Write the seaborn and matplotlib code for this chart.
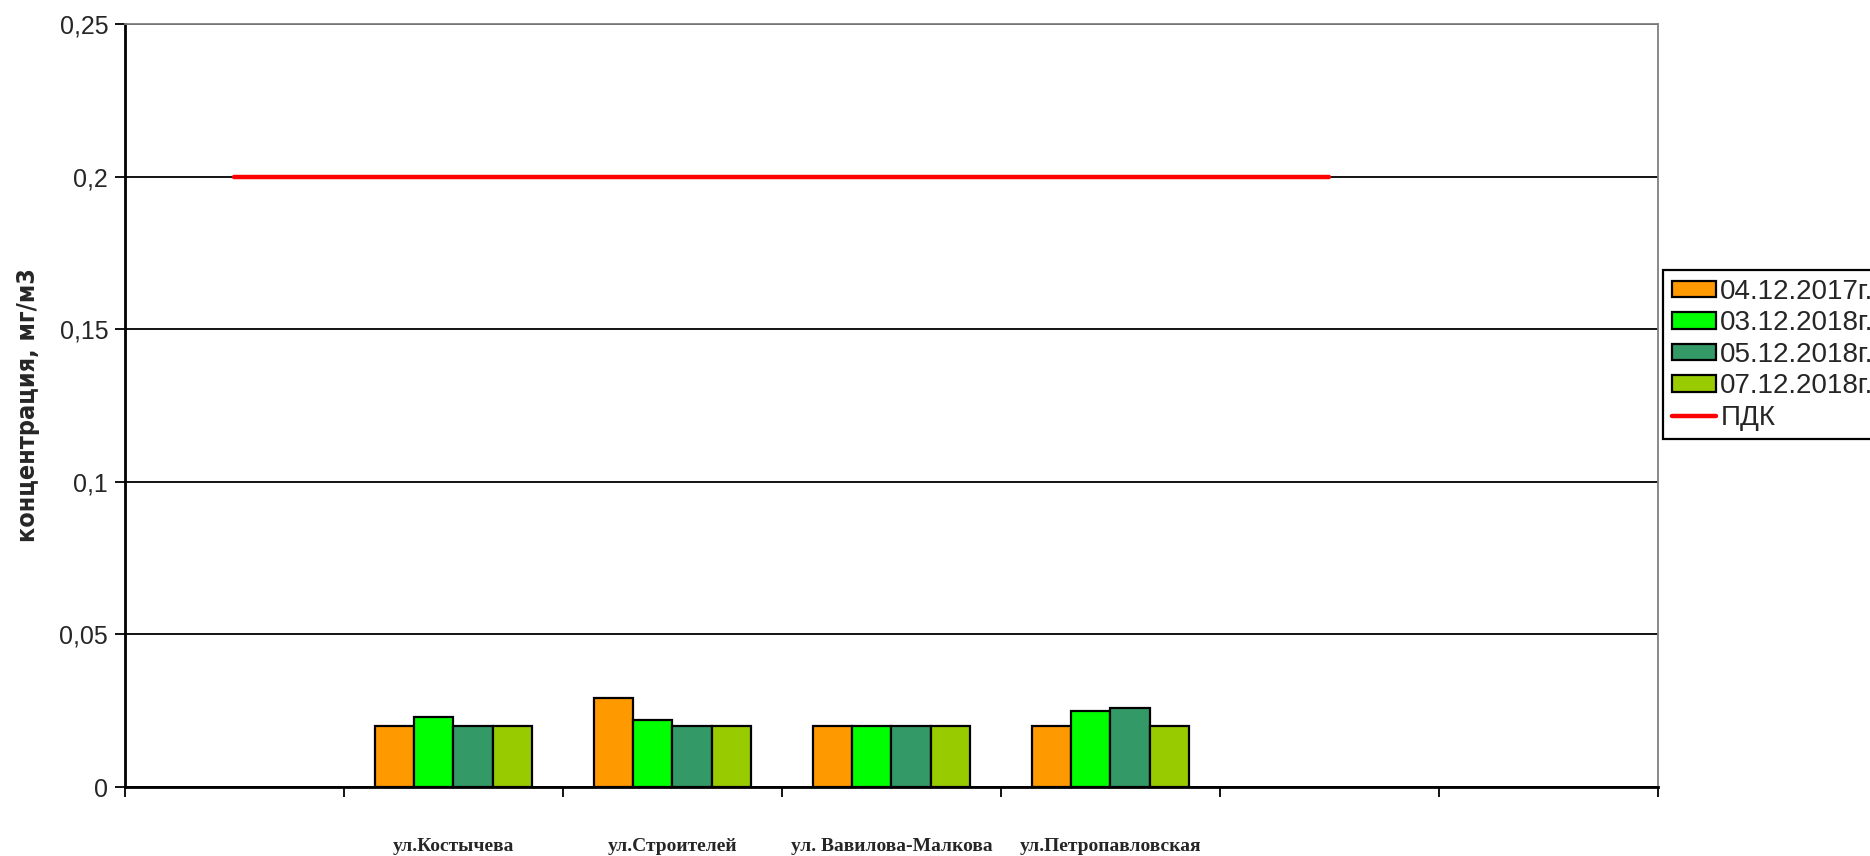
import pandas as pd
import matplotlib.pyplot as plt
import seaborn as sns
from matplotlib.patches import Patch
from matplotlib.lines import Line2D

# Kategorien (7 Plätze auf der x-Achse, leere Plätze ohne Beschriftung)
categories = [' ', 'ул.Костычева', 'ул.Строителей', 'ул. Вавилова-Малкова',
              'ул.Петропавловская', '  ', '   ']
streets = ['ул.Костычева', 'ул.Строителей', 'ул. Вавилова-Малкова', 'ул.Петропавловская']
dates = ['04.12.2017г.', '03.12.2018г.', '05.12.2018г.', '07.12.2018г.']

v_2017_12_04 = [0.020, 0.029, 0.020, 0.020]
v_2018_12_03 = [0.023, 0.022, 0.020, 0.025]
v_2018_12_05 = [0.020, 0.020, 0.020, 0.026]
v_2018_12_07 = [0.020, 0.020, 0.020, 0.020]

# ПДК-Linie über die Plätze 1..6
pdk_cats = categories[:6]
pdk_values = [0.2, 0.2, 0.2, 0.2, 0.2, 0.2]

colors = ['#FF9900', '#00FF00', '#339966', '#99CC00']

rows = []
for d, vals in zip(dates, [v_2017_12_04, v_2018_12_03, v_2018_12_05, v_2018_12_07]):
    for s, v in zip(streets, vals):
        rows.append({'street': s, 'date': d, 'value': v})
data = pd.DataFrame(rows)

sns.set_style('white')
plt.rcParams['font.family'] = ['Liberation Sans', 'DejaVu Sans']

fig = plt.figure(figsize=(18.7, 8.56), dpi=100)
ax = fig.add_axes([0.0668, 0.0806, 0.8198, 0.8914])

sns.barplot(data=data, x='street', y='value', hue='date', order=categories,
            hue_order=dates, palette=colors, saturation=1, width=0.72, gap=0,
            edgecolor='black', linewidth=1.6, ax=ax, legend=False)

x_pdk = [categories.index(c) for c in pdk_cats]
ax.plot(x_pdk, pdk_values, color='#FF0000', linewidth=3.2, zorder=5)

# Achsen
ax.set_xlim(-0.5, len(categories) - 0.5)
ax.set_ylim(0, 0.25)
ax.set_yticks([0, 0.05, 0.1, 0.15, 0.2, 0.25])
ax.set_yticklabels(['0', '0,05', '0,1', '0,15', '0,2', '0,25'], fontsize=18)
ax.yaxis.grid(True, color='black', linewidth=1.3)
ax.set_axisbelow(True)
ax.tick_params(axis='y', left=True, length=7, width=1.3, color='black', pad=5)

ax.set_xticks(range(len(categories)))
ax.set_xticklabels([c.strip() for c in categories], fontsize=14,
                   fontweight='bold', family='Liberation Serif')
ax.tick_params(axis='x', which='major', length=0, pad=37)
ax.set_xticks([i - 0.5 for i in range(len(categories) + 1)], minor=True)
ax.tick_params(axis='x', which='minor', bottom=True, length=7, width=1.3,
               color='black')

for side in ['left', 'bottom']:
    ax.spines[side].set_color('black')
    ax.spines[side].set_linewidth(2)
for side in ['top', 'right']:
    ax.spines[side].set_visible(True)
    ax.spines[side].set_color('#808080')
    ax.spines[side].set_linewidth(1.3)

ax.set_xlabel('')
ax.set_ylabel('концентрация, мг/м3', fontsize=18, fontweight='bold',
              family='DejaVu Sans', fontstretch='condensed', labelpad=14)

# Legende
handles = [Patch(facecolor=c, edgecolor='black', linewidth=1.6) for c in colors]
handles.append(Line2D([0], [0], color='#FF0000', linewidth=3.2))
leg = fig.legend(handles, dates + ['ПДК'], loc='upper left',
                 bbox_to_anchor=(0.8895, 0.684), fontsize=20, frameon=True,
                 fancybox=False, edgecolor='black', framealpha=1,
                 handlelength=1.6, handleheight=0.55, handletextpad=0.15,
                 labelspacing=0.2, borderpad=0.3, borderaxespad=0)
leg.get_frame().set_linewidth(1.6)

fig.savefig('out.png', dpi=100)
